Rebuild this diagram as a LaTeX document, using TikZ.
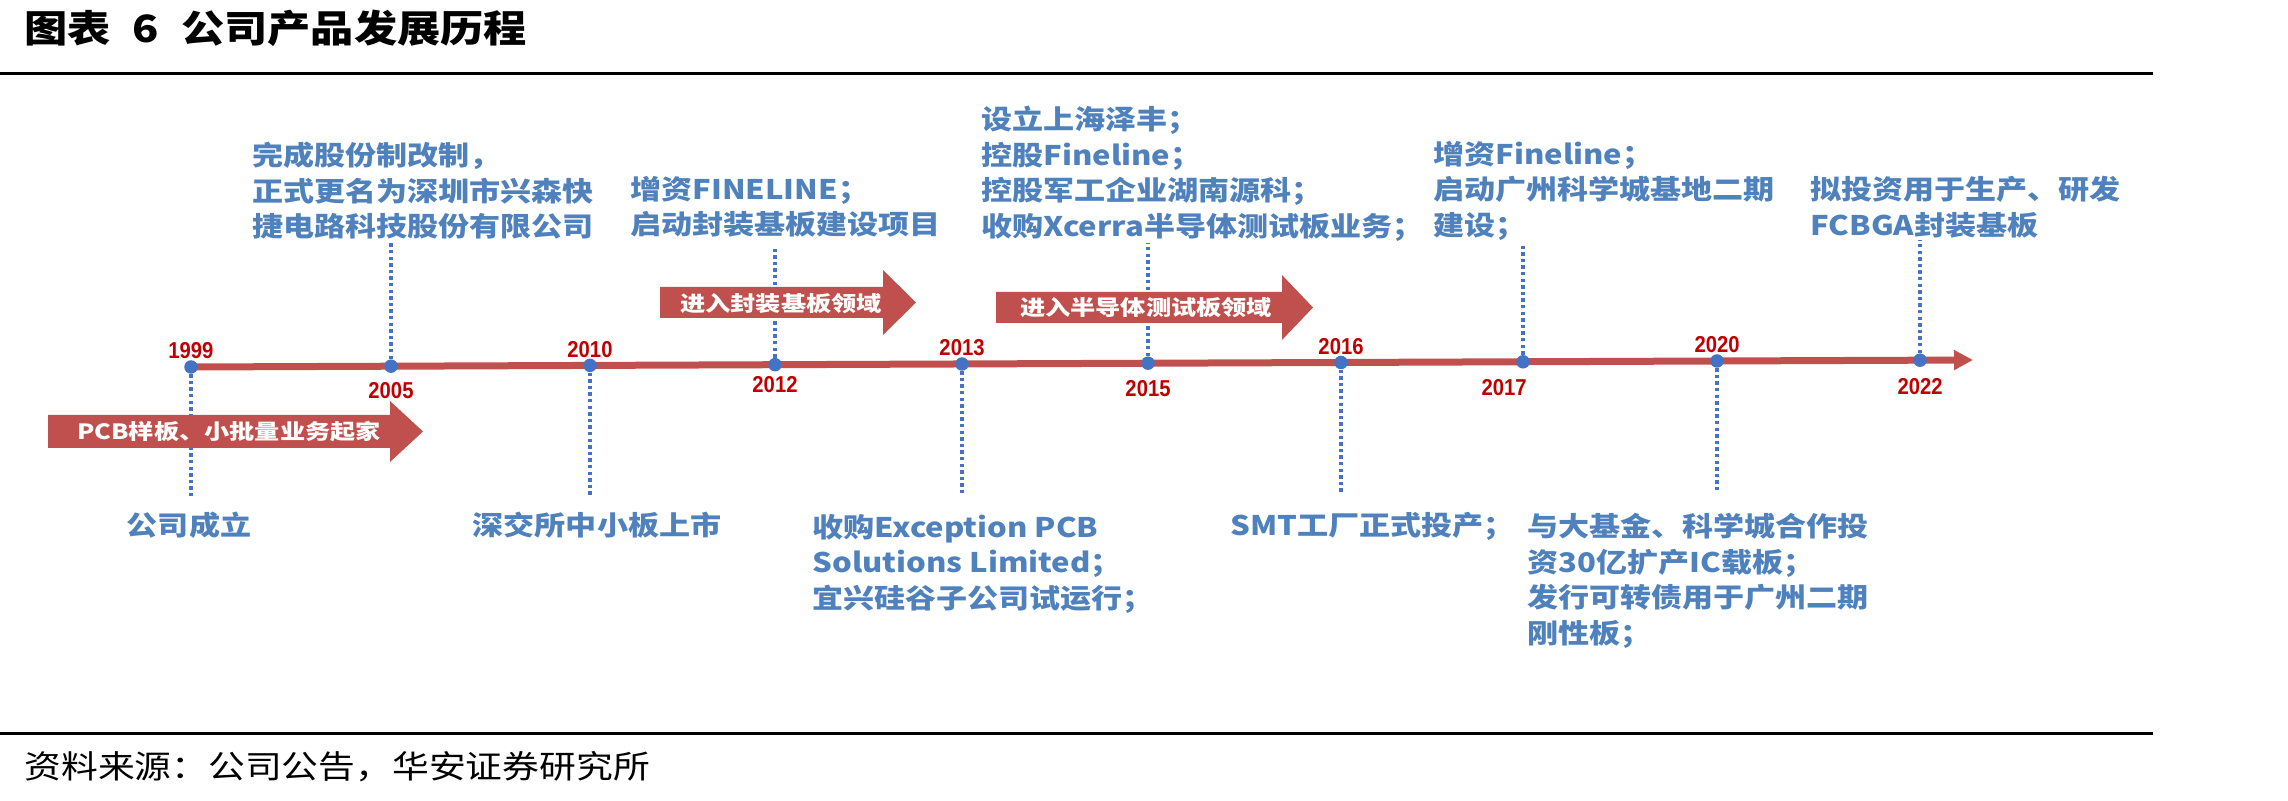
\documentclass[tikz,border=0pt]{standalone}
\usepackage{fontspec}
\usepackage{xcolor}
\usetikzlibrary{arrows.meta,positioning}
\newfontfamily\cjkfont[FakeStretch=1.15]{Noto Sans CJK SC}
\newfontfamily\bannerfont[FakeStretch=1.2]{Noto Sans CJK SC}
\newfontfamily\yearfont[FakeStretch=0.88]{Liberation Sans}
\definecolor{axisred}{RGB}{192,80,77}
\definecolor{yearred}{RGB}{192,0,0}
\definecolor{eventblue}{RGB}{79,129,189}
\definecolor{dotblue}{RGB}{68,114,196}
\tikzset{
  timeline/.style={draw=axisred,line width=3.5pt,
    -{Triangle[length=9.5pt,width=9.5pt]}},
  tldot/.style={circle,fill=dotblue,minimum size=6.75pt,inner sep=0pt},
  guide/.style={draw=dotblue,line width=1.6pt,dash pattern=on 1.7pt off 1.6pt},
  yearlabel/.style={font=\yearfont\bfseries\fontsize{11.5pt}{13pt}\selectfont,
    text=yearred,inner sep=0pt},
  eventtext/.style={font=\cjkfont\bfseries\fontsize{13.5pt}{17.7pt}\selectfont,
    text=eventblue,align=left,inner sep=0pt,anchor=north west},
  stagebar/.style={fill=axisred},
  stagetext/.style={font=\bannerfont\bfseries\fontsize{10.5pt}{12pt}\selectfont,
    text=white,inner sep=0pt},
  titletext/.style={font=\cjkfont\bfseries\fontsize{18.8pt}{22pt}\selectfont,
    anchor=west,inner sep=0pt},
  sourcetext/.style={font=\cjkfont\fontsize{16pt}{19pt}\selectfont,
    anchor=west,inner sep=0pt},
  rulebar/.style={draw=black,line width=1.6pt}
}
\begin{document}
\begin{tikzpicture}[x=0.5pt,y=-0.5pt]
  \useasboundingbox (0,0) rectangle (2288,801);
  % heading and rules
  \node[titletext] (title) at (24,28) {图表\hspace{11pt}6\hspace{11pt}公司产品发展历程};
  \coordinate (rtl) at (0,73.5);
  \coordinate (rtr) at (2153,73.5);
  \draw[rulebar] (rtl) -- (rtr);
  \coordinate (rbl) at (0,733.5);
  \coordinate (rbr) at (2153,733.5);
  \draw[rulebar] (rbl) -- (rbr);
  \node[sourcetext] (source) at (24,767) {资料来源：公司公告，华安证券研究所};

  % time axis with year dots
  \coordinate (tlstart) at (191,367);
  \coordinate (tlend) at (1973,360);
  \draw[timeline] (tlstart) -- (tlend);
  \foreach \yr/\px/\py in {1999/191/367, 2005/391/366.2, 2010/590/365.4,
      2012/775/364.7, 2013/962/364, 2015/1148/363.2, 2016/1341/362.5,
      2017/1523/361.8, 2020/1717/361, 2022/1920/360.2}
    \node[tldot] (d\yr) at (\px,\py) {};

  \node[yearlabel,above=0.3pt of d1999] (y1999) {1999};
  \node[yearlabel,below=4.5pt of d2005] (y2005) {2005};
  \node[yearlabel,above=0.3pt of d2010] (y2010) {2010};
  \node[yearlabel,below=2pt of d2012] (y2012) {2012};
  \node[yearlabel,above=0.3pt of d2013] (y2013) {2013};
  \node[yearlabel,below=5pt of d2015] (y2015) {2015};
  \node[yearlabel,above=0.3pt of d2016] (y2016) {2016};
  \node[yearlabel,below=5pt of d2017,xshift=-9.5pt] (y2017) {2017};
  \node[yearlabel,above=0.3pt of d2020] (y2020) {2020};
  \node[yearlabel,below=5.5pt of d2022] (y2022) {2022};

  % dotted leaders
  \foreach \yr/\gy in {1999/497, 2005/243, 2010/495, 2012/247, 2013/496,
      2015/243, 2016/493, 2017/243, 2020/492, 2022/240} {
    \coordinate (g\yr) at (d\yr |- 0,\gy);
    \draw[guide] (d\yr) -- (g\yr);
  }

  % stage arrows
  \fill[stagebar] (48,415) -- (390,415) -- (390,401) -- (423,431.5)
    -- (390,462) -- (390,448) -- (48,448) -- cycle;
  \node[stagetext] (stage1) at (229,432) {PCB样板、小批量业务起家};
  \fill[stagebar] (660,287) -- (883,287) -- (883,270) -- (916,302.5)
    -- (883,335) -- (883,318) -- (660,318) -- cycle;
  \node[stagetext] (stage2) at (781,304) {进入封装基板领域};
  \fill[stagebar] (996,292) -- (1282,292) -- (1282,275) -- (1313,307.5)
    -- (1282,340) -- (1282,323) -- (996,323) -- cycle;
  \node[stagetext] (stage3) at (1146,308) {进入半导体测试板领域};

  % events above the axis
  \node[eventtext] (e2005) at (252,142)
    {完成股份制改制，\\正式更名为深圳市兴森快\\捷电路科技股份有限公司};
  \node[eventtext] (e2012) at (630,176)
    {增资FINELINE；\\启动封装基板建设项目};
  \node[eventtext] (e2015) at (981,106)
    {设立上海泽丰；\\控股Fineline；\\控股军工企业湖南源科；\\收购Xcerra半导体测试板业务；};
  \node[eventtext] (e2017) at (1433,141)
    {增资Fineline；\\启动广州科学城基地二期\\建设；};
  \node[eventtext] (e2022) at (1810,176)
    {拟投资用于生产、研发\\FCBGA封装基板};

  % events below the axis
  \node[eventtext,anchor=center] (e1999) at (189,525) {公司成立};
  \node[eventtext,anchor=center] (e2010) at (597,525) {深交所中小板上市};
  \node[eventtext] (e2013) at (812,514)
    {收购Exception PCB\\Solutions Limited；\\宜兴硅谷子公司试运行；};
  \node[eventtext] (e2016) at (1230,512) {SMT工厂正式投产；};
  \node[eventtext] (e2020) at (1527,513)
    {与大基金、科学城合作投\\资30亿扩产IC载板；\\发行可转债用于广州二期\\刚性板；};
\end{tikzpicture}
\end{document}
